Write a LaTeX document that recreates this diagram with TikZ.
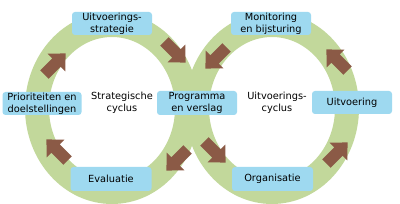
\documentclass[tikz,border=0pt]{standalone}
\usepackage{fontspec}
\setmainfont{DejaVu Sans}
\definecolor{ringgreen}{RGB}{194,216,155}
\definecolor{boxblue}{RGB}{158,217,240}
\definecolor{arrowbrown}{RGB}{139,90,70}
\tikzset{
  stagebox/.style={fill=boxblue, rounded corners=3pt, inner sep=0pt, align=center,
    font=\fontsize{9.8}{11.8}\selectfont, text=black},
  cyclelabel/.style={align=center, inner sep=0pt, font=\fontsize{9.8}{11.8}\selectfont, text=black}
}
% #1 name, #2 position, #3 angle
\newcommand{\myflowarrow}[3]{%
  \begin{scope}[shift={#2}, rotate=#3]
    \fill[arrowbrown] (-15,-6) -- (2,-6) -- (2,-12.5) -- (15,0) -- (2,12.5) -- (2,6) -- (-15,6) -- cycle;
    \coordinate (#1) at (0,0);
  \end{scope}}
\begin{document}
\begin{tikzpicture}[x=1pt,y=1pt]
\useasboundingbox (0,0) rectangle (400,204);
\clip (0,0) rectangle (400,204);
\fill[white] (0,0) rectangle (400,204);
% rings
\fill[ringgreen, even odd rule] (112,96) ellipse [x radius=87, y radius=96]
  (112,96) ellipse [x radius=63, y radius=71];
\fill[ringgreen, even odd rule] (272,96) ellipse [x radius=87, y radius=96]
  (272,96) ellipse [x radius=63, y radius=71];
% arrows
\myflowarrow{a1}{(55,140)}{45}
\myflowarrow{a2}{(175,152)}{-45}
\myflowarrow{a3}{(216,146)}{-135}
\myflowarrow{a4}{(337,144)}{135}
\myflowarrow{a5}{(337,51)}{45}
\myflowarrow{a6}{(215,52)}{-45}
\myflowarrow{a7}{(177,44)}{-135}
\myflowarrow{a8}{(57,54)}{135}
% boxes
\node[stagebox, minimum width=80pt, minimum height=23pt] (strat) at (112,180.5) {Uitvoerings-\\strategie};
\node[stagebox, minimum width=80pt, minimum height=23pt] (mon) at (271,180.5) {Monitoring\\en bijsturing};
\node[stagebox, minimum width=79pt, minimum height=23pt] (prio) at (42,100.5) {Prioriteiten en\\doelstellingen};
\node[stagebox, minimum width=80pt, minimum height=24pt] (prog) at (197,101) {Programma\\en verslag};
\node[stagebox, minimum width=80pt, minimum height=23pt] (uitv) at (352,101.5) {Uitvoering};
\node[stagebox, minimum width=81pt, minimum height=24pt] (eval) at (111,25) {Evaluatie};
\node[stagebox, minimum width=81pt, minimum height=24pt] (org) at (272.5,25) {Organisatie};
% cycle labels
\node[cyclelabel] (strcyc) at (122,101) {Strategische\\cyclus};
\node[cyclelabel] (uitcyc) at (277,101) {Uitvoerings-\\cyclus};
\end{tikzpicture}
\end{document}
